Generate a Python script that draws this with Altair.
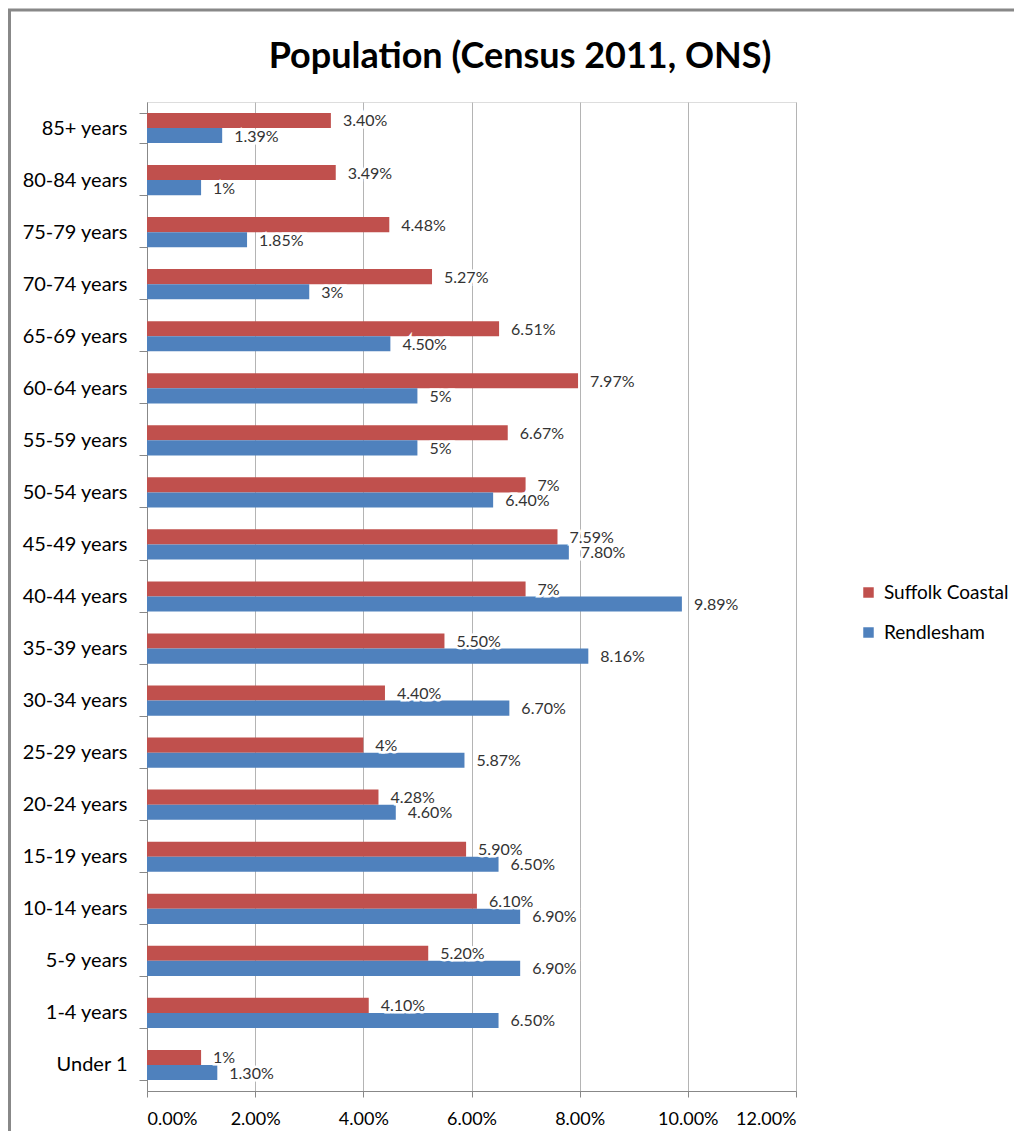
import altair as alt
import pandas as pd

categories = ["85+ years", "80-84 years", "75-79 years", "70-74 years", "65-69 years",
              "60-64 years", "55-59 years", "50-54 years", "45-49 years", "40-44 years",
              "35-39 years", "30-34 years", "25-29 years", "20-24 years", "15-19 years",
              "10-14 years", "5-9 years", "1-4 years", "Under 1"]
suffolk = [3.40, 3.49, 4.48, 5.27, 6.51, 7.97, 6.67, 7.0, 7.59, 7.0,
           5.50, 4.40, 4.0, 4.28, 5.90, 6.10, 5.20, 4.10, 1.0]
suffolk_labels = ["3.40%", "3.49%", "4.48%", "5.27%", "6.51%", "7.97%", "6.67%", "7%", "7.59%", "7%",
                  "5.50%", "4.40%", "4%", "4.28%", "5.90%", "6.10%", "5.20%", "4.10%", "1%"]
rend = [1.39, 1.0, 1.85, 3.0, 4.50, 5.0, 5.0, 6.40, 7.80, 9.89,
        8.16, 6.70, 5.87, 4.60, 6.50, 6.90, 6.90, 6.50, 1.30]
rend_labels = ["1.39%", "1%", "1.85%", "3%", "4.50%", "5%", "5%", "6.40%", "7.80%", "9.89%",
               "8.16%", "6.70%", "5.87%", "4.60%", "6.50%", "6.90%", "6.90%", "6.50%", "1.30%"]
series = ["Suffolk Coastal", "Rendlesham"]
colors = ["#C0504D", "#4F81BD"]
x_ticks = [0, 2, 4, 6, 8, 10, 12]
title_text = "Population (Census 2011, ONS)"

rows = []
for i, c in enumerate(categories):
    rows.append({"age": c, "series": series[0], "value": suffolk[i], "label": suffolk_labels[i]})
    rows.append({"age": c, "series": series[1], "value": rend[i], "label": rend_labels[i]})
df = pd.DataFrame(rows)

FONT = "Lato"

y_enc = alt.Y("age:N", sort=categories,
              scale=alt.Scale(paddingInner=0.42, paddingOuter=0.21),
              axis=alt.Axis(title=None, tickBand="extent", labelFontSize=20, labelFont=FONT,
                            labelColor="#000000", domainColor="#888888", tickColor="#888888",
                            tickSize=8, labelPadding=12, grid=False))
yoff_enc = alt.YOffset("series:N", sort=series)
x_enc = alt.X("value:Q", scale=alt.Scale(domain=[0, 12], nice=False, zero=True),
              axis=alt.Axis(values=x_ticks, labelExpr="format(datum.value, '.2f') + '%'",
                            title=None, grid=True, gridColor="#b4b4b4", domainColor="#888888",
                            tickColor="#888888", tickSize=6, labelFontSize=18, labelFont=FONT,
                            labelColor="#000000", labelPadding=13))

base = alt.Chart(df)

bars = base.mark_bar().encode(
    x=x_enc, y=y_enc, yOffset=yoff_enc,
    color=alt.Color("series:N", sort=series,
                    scale=alt.Scale(domain=series, range=colors),
                    legend=alt.Legend(title=None, orient="none", legendX=712, legendY=481,
                                      symbolType="square", symbolSize=110, symbolStrokeWidth=0,
                                      labelFontSize=19, labelFont=FONT, labelColor="#000000",
                                      rowPadding=20, labelOffset=6)),
)

halo = base.mark_text(align="left", baseline="middle", dx=12, dy=1, fontSize=16, font=FONT,
                      stroke="white", strokeWidth=5, color="white").encode(
    x="value:Q", y=alt.Y("age:N", sort=categories), yOffset=yoff_enc, text="label:N")

labels = base.mark_text(align="left", baseline="middle", dx=12, dy=1, fontSize=16, font=FONT,
                        color="#333333").encode(
    x="value:Q", y=alt.Y("age:N", sort=categories), yOffset=yoff_enc, text="label:N")

one = pd.DataFrame({"a": [0]})
border_left = alt.Chart(one).mark_rule(color="#888888", strokeWidth=3).encode(
    x=alt.value(-137.5), y=alt.value(-92), y2=alt.value(1060))
border_top = alt.Chart(one).mark_rule(color="#888888", strokeWidth=3).encode(
    y=alt.value(-92), x=alt.value(-139), x2=alt.value(1000))

title = alt.Chart(pd.DataFrame({"t": [title_text]})).mark_text(
    align="center", baseline="middle", font=FONT, fontSize=36, fontWeight="bold",
    color="#000000").encode(x=alt.value(373), y=alt.value(-45), text="t:N")

chart = alt.layer(border_left, border_top, title, bars, halo, labels).properties(
    width=649, height=989,
    autosize=alt.AutoSizeParams(type="none"),
    padding={"left": 139, "top": 94, "right": 218, "bottom": 40},
).configure_view(strokeWidth=0).configure(font=FONT)

chart.save("out.html", embed_options={"renderer": "svg", "actions": False})
